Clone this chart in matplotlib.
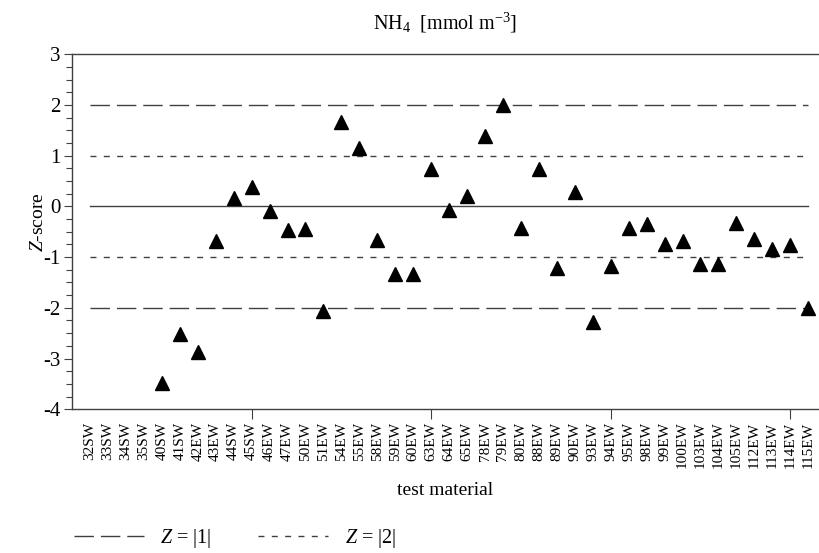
"""
Z-score plot for NH4 across test materials
"""

import matplotlib
matplotlib.use("Agg")
import matplotlib.pyplot as plt
from matplotlib.lines import Line2D

# fonts: Times-like serif, italic Z through mathtext
plt.rcParams['font.family'] = ['Liberation Serif', 'DejaVu Serif']
plt.rcParams['mathtext.fontset'] = 'custom'
plt.rcParams['mathtext.rm'] = 'Liberation Serif'
plt.rcParams['mathtext.it'] = 'Liberation Serif:italic'
plt.rcParams['axes.unicode_minus'] = False

# test materials (x axis) and Z-scores (None = not reported)
materials = ['32SW', '33SW', '34SW', '35SW', '40SW', '41SW', '42EW', '43EW',
             '44SW', '45SW', '46EW', '47EW', '50EW', '51EW', '54EW', '55EW',
             '58EW', '59EW', '60EW', '63EW', '64EW', '65EW', '78EW', '79EW',
             '80EW', '88EW', '89EW', '90EW', '93EW', '94EW', '95EW', '98EW',
             '99EW', '100EW', '103EW', '104EW', '105EW', '112EW', '113EW',
             '114EW', '115EW']
z_scores = [None, None, None, None, -3.48, -2.52, -2.87, -0.68,
            0.17, 0.38, -0.09, -0.47, -0.45, -2.06, 1.66, 1.15,
            -0.67, -1.33, -1.33, 0.74, -0.08, 0.20, 1.38, 2.00,
            -0.42, 0.74, -1.21, 0.28, -2.28, -1.17, -0.42, -0.35,
            -0.74, -0.69, -1.13, -1.13, -0.32, -0.65, -0.85,
            -0.76, -2.00]
limit_1 = 2    # long dashes, labelled Z = |1| in the original
limit_2 = 1    # short dashes, labelled Z = |2|

line_col = '#404040'
long_dash = (0, (14, 5))
short_dash = (0, (4.3, 5.3))

fig = plt.figure(figsize=(8.19, 5.53), dpi=100)
ax = fig.add_axes([0.088, 0.26, 0.912, 0.642])

pos = list(range(1, len(materials) + 1))
xs = [p for p, z in zip(pos, z_scores) if z is not None]
ys = [z for z in z_scores if z is not None]

# reference lines
x0, x1 = pos[0], pos[-1]
ax.plot([x0, x1], [0, 0], color=line_col, lw=1.0, zorder=1)
for s in (1, -1):
    ax.plot([x0, x1], [s * limit_1] * 2, color=line_col, lw=1.0, ls=long_dash, zorder=1)
    ax.plot([x0, x1], [s * limit_2] * 2, color=line_col, lw=1.0, ls=short_dash, zorder=1)

ax.plot(xs, ys, ls='none', marker='^', ms=10.5, color='black', zorder=3)

ax.set_xlim(0, 41.6)
ax.set_ylim(-4, 3)

# y axis: integer labels, minor ticks every 0.25
ax.set_yticks(range(-4, 4))
ax.set_yticks([i / 4 for i in range(-16, 13)], minor=True)
ax.tick_params(axis='y', which='major', length=5.5, width=0.8, labelsize=15,
               pad=3, color=line_col)
ax.tick_params(axis='y', which='minor', length=4.5, width=0.8, color=line_col)

# x axis: every material labelled, tick marks only on even positions
ax.set_xticks(pos)
ax.set_xticklabels(materials, rotation=90, fontsize=11)
ax.set_xticks([p for p in pos if p % 2 == 0 and p % 10 != 0], minor=True)
ax.tick_params(axis='x', which='major', length=0, pad=9)
ax.tick_params(axis='x', which='minor', length=4, width=0.8, color=line_col)
sec = ax.secondary_xaxis('bottom')
sec.set_xticks([10, 20, 30, 40])
sec.set_xticklabels([])
sec.tick_params(length=7, width=0.8, color=line_col)
sec.spines['bottom'].set_visible(False)

for name in ('left', 'bottom', 'top'):
    ax.spines[name].set_color(line_col)
    ax.spines[name].set_linewidth(1.0)
ax.spines['right'].set_visible(False)

ax.set_ylabel('$Z$-score', fontsize=14)
ax.yaxis.set_label_coords(-0.033, 0.527)
ax.set_xlabel('test material', fontsize=14, labelpad=10)
ax.set_title('NH$_4$  [mmol m$^{-3}$]', fontsize=14.5, pad=18)

# legend along the bottom edge
handles = [Line2D([], [], color=line_col, lw=1.0, ls=long_dash),
           Line2D([], [], color=line_col, lw=1.0, ls=short_dash)]
fig.legend(handles, ['$Z$ = |1|', '$Z$ = |2|'], ncol=2, frameon=False,
           fontsize=14.5, handlelength=3.5, columnspacing=2.3,
           loc='center left', bbox_to_anchor=(0.068, 0.027))

fig.savefig('out.png', dpi=100)
